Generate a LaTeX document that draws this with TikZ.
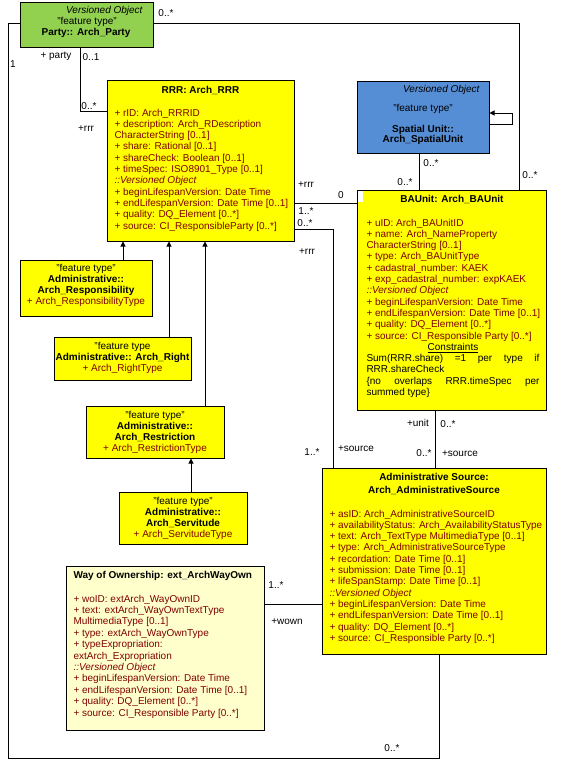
\documentclass[tikz,border=0pt]{standalone}
\usepackage{fontspec}
\setmainfont{Liberation Sans}
\usetikzlibrary{arrows.meta}

\definecolor{partygreen}{RGB}{146,208,80}
\definecolor{spatialblue}{RGB}{85,142,213}
\definecolor{classyellow}{RGB}{255,255,0}
\definecolor{wownyellow}{RGB}{255,255,204}
\definecolor{attrred}{RGB}{128,0,0}

\tikzset{
  umlbox/.style={draw=black, line width=1pt, inner sep=0pt},
  txt/.style={inner sep=0pt, align=left, text=attrred, anchor=north west},
  ftxt/.style={inner sep=0pt, align=center, anchor=north, font=\fontsize{10}{11}\selectfont},
  lbl/.style={inner sep=0pt, text height=7pt, text depth=0pt},
  gen/.style={-{Triangle[length=5pt,width=5pt]}},
}

\begin{document}
\begin{tikzpicture}[x=1pt,y=-1pt,line width=1pt,font=\fontsize{10}{11.3}\selectfont]
  \useasboundingbox (0,0) rectangle (576,761);

  % class boxes
  \node[umlbox,fill=partygreen,minimum width=133pt,minimum height=45pt] (party) at (86.5,24.5) {};
  \node[umlbox,fill=classyellow,minimum width=187pt,minimum height=161pt] (rrr) at (200.5,160.5) {};
  \node[umlbox,fill=spatialblue,minimum width=132pt,minimum height=72pt] (spatial) at (423,117) {};
  \node[umlbox,fill=classyellow,minimum width=189pt,minimum height=220pt] (bau) at (451.5,300) {};
  \node[umlbox,fill=classyellow,minimum width=132pt,minimum height=56pt] (resp) at (86,288) {};
  \node[umlbox,fill=classyellow,minimum width=137pt,minimum height=43pt] (right) at (122.5,358.5) {};
  \node[umlbox,fill=classyellow,minimum width=138pt,minimum height=52pt] (restr) at (155,432) {};
  \node[umlbox,fill=classyellow,minimum width=128pt,minimum height=52pt] (serv) at (183,518) {};
  \node[umlbox,fill=classyellow,minimum width=224pt,minimum height=186pt] (src) at (434,561) {};
  \node[umlbox,fill=wownyellow,minimum width=198pt,minimum height=164pt] (wown) at (165,648) {};
  \fill[white] (358,190.5) rectangle (363,202);

  % party
  \node[lbl,anchor=east] (party-vo) at (143,10) {\itshape Versioned Object};
  \node[lbl] (party-ft) at (87,21) {"feature type"};
  \node[lbl] (party-name) at (86,32) {\bfseries Party:: Arch\_Party};

  % rrr
  \node[lbl] (rrr-name) at (200.5,90) {\bfseries RRR: Arch\_RRR};
  \node[txt] (rrr-attr) at (114,108.3) {+ rID: Arch\_RRRID\\
    + description: Arch\_RDescription\\
    CharacterString [0..1]\\
    + share: Rational [0..1]\\
    + shareCheck: Boolean [0..1]\\
    + timeSpec: ISO8901\_Type [0..1]\\
    \textit{::Versioned Object}\\
    + beginLifespanVersion: Date Time\\
    + endLifespanVersion: Date Time [0..1]\\
    + quality: DQ\_Element [0..*]\\
    + source: CI\_ResponsibleParty [0..*]};

  % spatial unit
  \node[lbl,anchor=east] (spatial-vo) at (480,89) {\itshape Versioned Object};
  \node[lbl] (spatial-ft) at (423,108) {"feature type"};
  \node[lbl] (spatial-name) at (423,129) {\bfseries Spatial Unit::};
  \node[lbl] (spatial-name2) at (423,139) {\bfseries Arch\_SpatialUnit};

  % baunit
  \node[lbl] (bau-name) at (452,199) {\bfseries BAUnit: Arch\_BAUnit};
  \node[txt] (bau-attr) at (366,218.3) {+ uID: Arch\_BAUnitID\\
    + name: Arch\_NameProperty\\
    CharacterString [0..1]\\
    + type: Arch\_BAUnitType\\
    + cadastral\_number: KAEK\\
    + exp\_cadastral\_number: expKAEK\\
    \textit{::Versioned Object}\\
    + beginLifespanVersion: Date Time\\
    + endLifespanVersion: Date Time [0..1]\\
    + quality: DQ\_Element [0..*]\\
    + source: CI\_Responsible Party [0..*]};
  \node[txt,text=black] (bau-cons) at (366,342.6) {\makebox[173pt]{\underline{Constraints}}\\
    \makebox[173pt][s]{Sum(RRR.share) =1 per type if}\\
    RRR.shareCheck\\
    \makebox[173pt][s]{\{no overlaps RRR.timeSpec per}\\
    summed type\}};

  % feature types
  \node[ftxt] (resp-txt) at (86,263.3) {"feature type"\\
    \textbf{Administrative::}\\
    \textbf{Arch\_Responsibility}\\
    \textcolor{attrred}{+ Arch\_ResponsibilityType}};
  \node[ftxt] (right-txt) at (122.5,341.3) {"feature type\\
    \textbf{Administrative:: Arch\_Right}\\
    \textcolor{attrred}{+ Arch\_RightType}};
  \node[ftxt] (restr-txt) at (155,410.3) {"feature type"\\
    \textbf{Administrative::}\\
    \textbf{Arch\_Restriction}\\
    \textcolor{attrred}{+ Arch\_RestrictionType}};
  \node[ftxt] (serv-txt) at (183,497) {"feature type"\\
    \textbf{Administrative::}\\
    \textbf{Arch\_Servitude}\\
    \textcolor{attrred}{+ Arch\_ServitudeType}};

  % administrative source
  \node[lbl] (src-name) at (434,477) {\bfseries Administrative Source:};
  \node[lbl] (src-name2) at (434,490) {\bfseries Arch\_AdministrativeSource};
  \node[txt] (src-attr) at (329,509.3) {+ asID: Arch\_AdministrativeSourceID\\
    + availabilityStatus: Arch\_AvailabilityStatusType\\
    + text: Arch\_TextType MultimediaType [0..1]\\
    + type: Arch\_AdministrativeSourceType\\
    + recordation: Date Time [0..1]\\
    + submission: Date Time [0..1]\\
    + lifeSpanStamp: Date Time [0..1]\\
    \textit{::Versioned Object}\\
    + beginLifespanVersion: Date Time\\
    + endLifespanVersion: Date Time [0..1]\\
    + quality: DQ\_Element [0..*]\\
    + source: CI\_Responsible Party [0..*]};

  % way of ownership
  \node[lbl,anchor=west] (wown-name) at (73,575) {\bfseries Way of Ownership: ext\_ArchWayOwn};
  \node[txt,font=\fontsize{10}{11.4}\selectfont] (wown-attr) at (73,594.3) {+ woID: extArch\_WayOwnID\\
    + text: extArch\_WayOwnTextType\\
    MultimediaType [0..1]\\
    + type: extArch\_WayOwnType\\
    + typeExpropriation:\\
    extArch\_Expropriation\\
    \textit{::Versioned Object}\\
    + beginLifespanVersion: Date Time\\
    + endLifespanVersion: Date Time [0..1]\\
    + quality: DQ\_Element [0..*]\\
    + source: CI\_Responsible Party [0..*]};

  % associations
  \coordinate (pr) at (80,111);
  \coordinate (pb) at (519,23);
  \coordinate (ps1) at (8,23);
  \coordinate (ps2) at (439,758);
  \coordinate (rb) at (320,203);
  \coordinate (rs) at (333,229);
  \coordinate (sb) at (419,170);
  \coordinate (sl1) at (512,124);
  \coordinate (sl2) at (512,113);
  \coordinate (bs) at (435,440);
  \coordinate (ws) at (290,604);
  \draw (party.south -| pr) |- (rrr.west |- pr);
  \draw (party.east |- pb) -| (bau.north -| pb);
  \draw (party.west |- ps1) -| (ps1 |- ps2) -| (src.south -| ps2);
  \draw (rrr.east |- rb) -- (bau.west |- rb);
  \draw (rrr.east |- rs) -| (src.north -| rs);
  \draw (spatial.south -| sb) -- (bau.north -| sb);
  \draw[gen] (spatial.east |- sl1) -- (sl1) -- (sl2) -- (spatial.east |- sl2);
  \draw (bau.south -| bs) -- (src.north -| bs);
  \draw (wown.east |- ws) -- (src.west |- ws);

  % generalisations
  \coordinate (g1) at (123,250);
  \coordinate (g2) at (169,250);
  \coordinate (g3) at (205,250);
  \coordinate (g4) at (191,470);
  \draw[gen] (resp.north -| g1) -- (rrr.south -| g1);
  \draw[gen] (right.north -| g2) -- (rrr.south -| g2);
  \draw[gen] (restr.north -| g3) -- (rrr.south -| g3);
  \draw[gen] (serv.north -| g4) -- (restr.south -| g4);

  % multiplicities and roles
  \node[lbl] (m-party-bau) at (166,13) {0..*};
  \node[lbl] (m-party-src) at (13,64) {1};
  \node[lbl] (r-party) at (56,55) {+ party};
  \node[lbl] (m-party) at (91,57) {0..1};
  \node[lbl] (m-rrr-party) at (89,106) {0..*};
  \node[lbl] (r-rrr-party) at (86,128) {+rrr};
  \node[lbl] (m-bau-party) at (530,175) {0..*};
  \node[lbl] (m-spatial) at (431,163) {0..*};
  \node[lbl] (m-bau-spatial) at (405,182) {0..*};
  \node[lbl] (r-rrr-bau) at (306,184) {+rrr};
  \node[lbl] (m-bau-rrr) at (341,195) {0};
  \node[lbl] (m-rrr-bau) at (306,211) {1..*};
  \node[lbl] (m-rrr-src) at (305,223) {0..*};
  \node[lbl] (r-rrr-src) at (307,251) {+rrr};
  \node[lbl] (m-src-rrr) at (312,452) {1..*};
  \node[lbl] (r-src-rrr) at (356,448) {+source};
  \node[lbl] (r-unit) at (418,423) {+unit};
  \node[lbl] (m-unit) at (448,424) {0..*};
  \node[lbl] (m-src-bau) at (424,453) {0..*};
  \node[lbl] (r-src-bau) at (460,453) {+source};
  \node[lbl] (m-wown) at (276,585) {1..*};
  \node[lbl] (r-wown) at (287,621) {+wown};
  \node[lbl] (m-src-party) at (392,748) {0..*};
\end{tikzpicture}
\end{document}
